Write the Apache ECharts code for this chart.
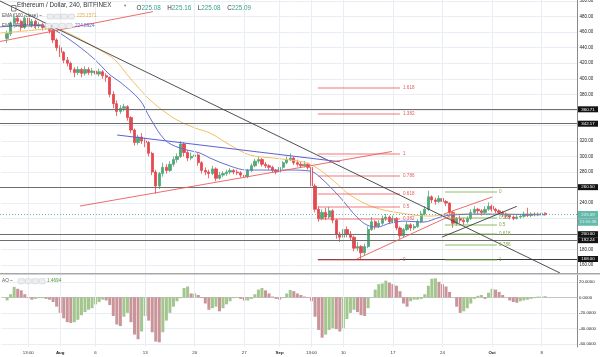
<!DOCTYPE html>
<html>
<head>
<meta charset="utf-8">
<script src="https://cdn.jsdelivr.net/npm/echarts@6.0.0/dist/echarts.min.js"></script>
<style>html,body{margin:0;padding:0;background:#fff;}#chart{width:600px;height:357px;}</style>
</head>
<body>
<div id="chart"></div>
<script>
// ================= DATA =================
// 12h candles, Jul 24 -> Oct 8
const opens = [452,458,472,478,474,466,478,470,474,468, 470,466,468,462,450,440,434,424,420,412,
 408,412,407,412,408,410,406,409,404,402, 380,368,358,362,364,350,334,318,325,320,
 318,304,280,262,278,286,282,290,296,300, 316,305,298,300,302,292,282,280,278,284,
 272,276,278,280,282,280,279,276,274,282, 288,294,296,290,288,286,282,280,286,292,
 296,298,292,290,288,290,286,262,232,220, 228,222,230,218,200,196,206,200,196,182,
 184,176,184,206,216,210,214,220,222,216, 220,208,198,206,212,208,210,216,226,232,
 248,244,242,246,242,240,228,214,220,218, 216,220,228,232,230,228,232,236,232,230,
 228,226,224,222,220,222,223,226,224,226, 225,226,227];
const closes = [458,472,478,474,466,478,470,474,468,470, 466,468,462,450,440,434,424,420,412,408,
 412,407,412,408,410,406,409,404,402,380, 368,358,362,364,350,334,318,325,320,318,
 304,280,262,278,286,282,290,296,300,316, 305,298,300,302,292,282,280,278,284,272,
 276,278,280,282,280,279,276,274,282,288, 294,296,290,288,286,282,280,286,292,296,
 298,292,290,288,290,286,262,232,220,228, 222,230,218,200,196,206,200,196,182,184,
 176,184,206,216,210,214,220,222,216,220, 208,198,206,212,208,210,216,226,232,248,
 244,242,246,242,240,228,214,220,218,216, 220,228,232,230,228,232,236,232,230,228,
 226,224,222,220,222,223,226,224,226,225, 226,227,225.09];
const highs = [462,474,484,482,476,482,480,477,476,473, 472,471,470,464,452,443,436,428,422,415,
 416,414,416,415,414,412,413,411,407,403, 384,372,366,368,366,352,336,328,330,324,
 320,306,283,280,292,290,294,300,304,320, 318,308,305,306,304,294,286,283,288,286,
 280,281,283,285,284,283,281,279,284,291, 297,300,298,293,290,288,284,288,294,300,
 304,300,296,293,294,292,287,265,236,232, 234,235,232,220,203,210,210,204,198,190,
 186,188,210,222,218,218,224,226,224,224, 222,210,208,216,214,213,219,230,236,256,
 250,247,250,248,244,241,230,222,224,221, 223,232,236,234,232,236,241,238,234,232,
 230,228,226,224,225,226,229,234,228,228, 228,229,228];
const lows = [446,455,468,470,462,464,466,466,464,465, 462,463,458,446,436,428,420,416,408,402,
 405,402,404,405,404,402,403,400,396,376, 362,352,355,358,346,330,314,315,316,312,
 300,276,252,258,274,278,280,287,292,298, 300,294,295,296,288,278,276,272,276,268,
 270,273,275,277,277,276,273,271,272,280, 286,291,287,285,283,279,277,278,284,290,
 294,289,287,285,286,283,258,228,216,218, 218,220,214,194,190,194,196,192,178,178,
 168,173,182,204,206,208,212,217,213,214, 205,194,196,204,204,205,208,214,224,230,
 240,238,240,238,236,224,208,211,214,212, 214,218,226,226,224,226,230,229,227,225,
 222,220,219,218,219,220,221,222,222,223, 223,224,224];
// Awesome Oscillator, one value per candle
const aoValues = [-4,4,13.5,11,9,4,-1,-3,-2,-1, -1,-2,-3,-6,-12,-20,-27,-32,-33,-32,
 -29,-23,-19,-16,-14,-9,-6,-3,-4,-10, -24,-35,-37,-25,-20,-32,-48,-54,-44,-24,
 -30,-45,-57,-58,-45,-30,-20,-12,-5,-1, 12,14,5,5,3,-1,-8,-16,-14,-12,
 -18,-14,-9,-5,-1,0.5,-2,-4,-4,-2, 4,10,12,9,5,1,-2,-3,-1,5,
 9.5,8,5,3,1,0.5,-5,-25,-42,-52, -48,-42,-40,-41,-44,-40,-28,-20,-16,-19,
 -23,-24,-14,0,10,17,18,21.5,19,17, 15,8,-8,-12,-5,-3,-3,-2,4,15,
 24,24.5,20,17,14,7,0,-12,-20,-18, -14,-8,-2,2,3,-2,6,11,10,7,
 3,0,-4,-6,-7,-5,-4,-3,-2,-1, 1,1,1.4694];
// moving averages: [time index, price]
const emaSlow = [[0,458.9],[7.1,461.5],[14.1,464.1],[17.0,462.8],[22.6,451.2],[28.2,437.1],[32.5,424.2],
 [36.7,401.0],[42.4,372.7],[46.6,357.2],[50.0,346.9],[55.1,336.6],[59.3,330.2],[65.0,314.7],[70.6,301.9],
 [77.1,298.0],[81.9,295.5],[86.7,291.6],[90.4,282.6],[94.6,267.2],[98.9,250.4],[105.4,235.0],[113.0,227.3],
 [121.5,223.2],[127.1,225.8],[135.6,225.8],[154,225.1571]];
const emaFast = [[0,466.7],[8.5,469.2],[14.1,465.4],[19.8,449.9],[26.3,426.8],[31.1,404.9],[33.9,395.9],
 [39.5,372.7],[42.4,349.5],[46.6,321.2],[50.8,310.9],[56.5,304.4],[59.3,298.0],[65.0,287.7],[69.8,282.5],
 [77.1,282.5],[81.9,282.5],[87.6,281.2],[90.4,273.4],[96.0,247.7],[100.8,222.0],[103.7,211.7],[106.5,209.1],
 [110.2,214.2],[114.4,216.8],[119.5,215.5],[124.3,221.9],[127.1,224.5],[135.6,225.8],[154,224.8924]];
// time axis ticks
const tickIndex = [8,17,27,41,55,69,79,88,97,111,125,139,153];
const tickText = ['13:00','Aug','6','13','20','27','Sep','13:00','10','17','24','Oct','8'];
const monthTicks = ['Aug','Sep','Oct'];
const hiddenPriceTicks = [360,340,260,220,200];
// drawings
const srLevels = [360.71, 342.17, 260.50, 200.00, 192.24];
const support168 = [[89.8,168],[163,168]];
const lastPrice = 225.09;
const countdown = '21:55:38';
const downTrendBlack = [[0,500.1],[158.2,150.0]];
const upLineRedTopLeft = [[0,448.0],[43.2,486.4]];
const resistanceBlue = [[33.1,327.6],[96.0,293.3]];
const wedgeRed = [[22.6,236.2],[110.7,306.4]];
const riseRedA = [[100.8,168.0],[127.1,223.3]];
const riseRedB = [[125.4,225.9],[139.0,247.8]];
const riseBlack = [[124.9,196.3],[146.0,235.8]];
const redFibSpan = [89.8,113.0];
const redFibLevels = [167.6,219.5,235.9,252.1,275.2,303.2,355.6,388.5];
const redFibNames = ['0','0.382','0.5','0.618','0.786','1','1.382','1.618'];
const greenFibSpan = [125.7,140.4];
const greenFibLevels = [254.6,221.2,211.8,201.1,186.0,167.6];
const greenFibNames = ['0','0.382','0.5','0.618','0.786','1'];

// ================= CHART =================
const FONT = 'Liberation Sans, Arial, sans-serif';
const GRID = '#e9eef4';
const UP = '#53a777', DN = '#e4494f';
const AO_UP = '#a3c68e', AO_DN = '#c9959a';
const N = 164, LEAD = 2;
const cats = [];
for (let i = 0; i < N; i++) cats.push(String(i));
const candleData = [], aoData = [];
for (let i = 0; i < N; i++) {
  const j = i - LEAD;
  if (j >= 0 && j < closes.length) {
    candleData.push([opens[j], closes[j], lows[j], highs[j]]);
    const up = j === 0 ? true : aoValues[j] >= aoValues[j - 1];
    aoData.push({ value: aoValues[j], itemStyle: { color: up ? AO_UP : AO_DN } });
  } else {
    candleData.push(['-', '-', '-', '-']);
    aoData.push('-');
  }
}
const isTick = (i) => tickIndex.indexOf(i) >= 0;

const ml = [];
function seg(pts, color, width, label) {
  ml.push([{ coord: pts[0], lineStyle: { color: color, width: width, type: 'solid', opacity: 1 },
             label: label || { show: false } }, { coord: pts[1] }]);
}
const boxLabel = (txt, bg) => ({ show: true, position: 'end', distance: 1, formatter: '{x|' + txt + '}',
  rich: { x: { backgroundColor: bg, color: '#fff', width: 20, height: 6, align: 'center', fontSize: 4.4, fontFamily: FONT } } });

// horizontal support / resistance
srLevels.forEach(v => seg([[0, v], [N - 1, v]], '#6e6e6e', 1.2, boxLabel(v.toFixed(2), '#131313')));
seg(support168, '#3a3a3a', 1.2, boxLabel('168.00', '#131313'));
// fib retracements
redFibLevels.forEach((v, k) => seg([[redFibSpan[0], v], [redFibSpan[1], v]], 'rgba(238,90,90,0.55)', 1.6,
  { show: true, position: 'end', distance: 3, formatter: redFibNames[k], color: '#e35d5d', fontSize: 4.6, fontFamily: FONT }));
greenFibLevels.forEach((v, k) => seg([[greenFibSpan[0], v], [greenFibSpan[1], v]], 'rgba(130,180,80,0.6)', 1.6,
  { show: true, position: 'end', distance: 2, formatter: greenFibNames[k], color: '#7aa84a', fontSize: 4.6, fontFamily: FONT }));
// trend lines
seg(downTrendBlack, '#3c3c3c', 0.9);
seg(upLineRedTopLeft, '#ec5b5b', 0.9);
seg(resistanceBlue, '#5b63d6', 1.1);
seg(wedgeRed, '#ec5b5b', 0.9);
seg(riseRedA, '#ec5b5b', 0.9);
seg(riseRedB, '#ec5b5b', 0.9);
seg(riseBlack, '#3c3c3c', 0.9);
// last price line + countdown
ml.push([{ coord: [0, lastPrice], lineStyle: { color: '#3fa796', width: 1, type: [1, 2], opacity: 0.8 },
  label: { show: true, position: 'end', distance: 1,
    formatter: '{e|}\n{a|' + lastPrice.toFixed(2) + '}\n{a|' + countdown + '}',
    rich: { e: { height: 7.4, width: 20 },
            a: { backgroundColor: '#3fa796', color: '#fff', width: 20, height: 7.4, align: 'center', fontSize: 4.4, fontFamily: FONT } } } },
  { coord: [N - 1, lastPrice] }]);

// vertical time grid lines (drawn under the marks)
const vGrid = tickIndex.map(i => ({ xAxis: i }));
const vGridLine = { silent: true, animation: false, symbol: ['none', 'none'], label: { show: false },
  lineStyle: { color: GRID, width: 1, type: 'solid' }, data: vGrid };

const option = {
  animation: false,
  backgroundColor: '#ffffff',
  textStyle: { fontFamily: FONT },
  grid: [
    { left: 0, right: 23, top: 0, height: 273, outerBoundsMode: 'none' },
    { left: 0, right: 23, top: 275, height: 72, outerBoundsMode: 'none' }
  ],
  xAxis: [
    { type: 'category', gridIndex: 0, data: cats, boundaryGap: false,
      axisLine: { show: false }, axisTick: { show: false }, axisLabel: { show: false }, splitLine: { show: false } },
    { type: 'value', gridIndex: 0, min: 0, max: N - 1, show: false, splitLine: { show: false } },
    { type: 'category', gridIndex: 1, data: cats, boundaryGap: false,
      axisLine: { show: true, lineStyle: { color: '#c4c4c4' } }, axisTick: { show: false },
      axisLabel: { interval: (i) => isTick(i), margin: 4, fontSize: 4.4, color: '#333', fontFamily: FONT,
        formatter: (v) => { const t = tickText[tickIndex.indexOf(Number(v))] || ''; return monthTicks.indexOf(t) >= 0 ? '{b|' + t + '}' : t; },
        rich: { b: { fontWeight: 'bold', fontSize: 4.4, color: '#222', fontFamily: FONT } } },
      splitLine: { show: false } },
    { type: 'value', gridIndex: 1, min: 0, max: N - 1, show: false, splitLine: { show: false } }
  ],
  yAxis: [
    { type: 'value', gridIndex: 0, position: 'right', min: 150, max: 501.4, interval: 10,
      axisLine: { show: true, onZero: false, lineStyle: { color: '#8a8a8a', width: 1 } }, axisTick: { show: false },
      axisLabel: { margin: 2.5, fontSize: 4.5, color: '#222', fontFamily: FONT,
        formatter: (v) => (Math.abs(v % 20) < 1e-6 && hiddenPriceTicks.indexOf(v) < 0) ? v.toFixed(2) : '' },
      splitLine: { show: true, lineStyle: { color: ['rgba(0,0,0,0)', GRID], width: 1 } } },
    { type: 'value', gridIndex: 1, position: 'right', min: -64, max: 28.8, interval: 4,
      axisLine: { show: true, onZero: false, lineStyle: { color: '#8a8a8a', width: 1 } }, axisTick: { show: false },
      axisLabel: { margin: 2, fontSize: 4.3, color: '#222', fontFamily: FONT,
        formatter: (v) => (Math.abs(v % 20) < 1e-6) ? (v === 0 ? 0 : v).toFixed(4) : '' },
      splitLine: { show: true, lineStyle: { color: ['rgba(0,0,0,0)', GRID, 'rgba(0,0,0,0)', 'rgba(0,0,0,0)', 'rgba(0,0,0,0)'], width: 1 } } }
  ],
  series: [
    { type: 'line', xAxisIndex: 1, yAxisIndex: 0, data: [[0, 160]], showSymbol: false, z: 1,
      lineStyle: { opacity: 0 }, markLine: vGridLine },
    { type: 'line', xAxisIndex: 3, yAxisIndex: 1, data: [[0, 0]], showSymbol: false, z: 1,
      lineStyle: { opacity: 0 }, markLine: vGridLine },
    { type: 'candlestick', xAxisIndex: 0, yAxisIndex: 0, data: candleData, barWidth: '78%', z: 2,
      itemStyle: { color: UP, color0: DN, borderColor: UP, borderColor0: DN, borderWidth: 0.8 } },
    { type: 'line', name: 'slow', xAxisIndex: 1, yAxisIndex: 0, data: emaSlow, showSymbol: false, smooth: 0.35,
      lineStyle: { color: '#f3bf62', width: 1 }, z: 3 },
    { type: 'line', name: 'fast', xAxisIndex: 1, yAxisIndex: 0, data: emaFast, showSymbol: false, smooth: 0.35,
      lineStyle: { color: '#6670c9', width: 1 }, z: 3,
      markLine: { silent: true, animation: false, symbol: ['none', 'none'], precision: 4, data: ml } },
    { type: 'bar', xAxisIndex: 2, yAxisIndex: 1, data: aoData, barCategoryGap: '15%', z: 2 }
  ],
  graphic: [
    { type: 'rect', left: 0, top: 0, shape: { width: 1.4, height: 350 }, style: { fill: '#ffffff' }, z: 1 },
    { type: 'rect', left: 0, top: 273, shape: { width: 600, height: 1.6 }, style: { fill: '#a8a8a8' }, z: 100 },
    { type: 'text', left: 17, top: 2.6, style: { text: 'Ethereum / Dollar, 240, BITFINEX', fontSize: 6.3, fontFamily: FONT, fill: '#333' }, z: 100 },
    { type: 'text', left: 124, top: 3.2, style: { text: '▾', fontSize: 4.5, fontFamily: 'DejaVu Sans', fill: '#777' }, z: 100 },
    { type: 'text', left: 136.5, top: 2.6, style: {
        text: '{k|O}{v|225.08}  {k|H}{v|225.16}  {k|L}{v|225.08}  {k|C}{v|225.09}',
        rich: { k: { fontSize: 6.3, fontFamily: FONT, fill: '#333' }, v: { fontSize: 6.3, fontFamily: FONT, fill: '#3aa18d' } } }, z: 100 },
    { type: 'rect', left: 9, top: 3, shape: { width: 4.5, height: 5.5 }, style: { fill: 'none', stroke: '#555', lineWidth: 0.7 }, z: 100 },
    // indicator legends
    { type: 'text', left: 2, top: 13.6, style: { text: 'EMA (100, close) ~', fontSize: 4.7, fontFamily: FONT, fill: '#555' }, z: 100 },
    { type: 'text', left: 2, top: 22.9, style: { text: 'EMA (50, close) ~', fontSize: 4.7, fontFamily: FONT, fill: '#555' }, z: 100 },
    { type: 'text', left: 77, top: 13.6, style: { text: '225.1571', fontSize: 4.7, fontFamily: FONT, fill: '#e9ac3f' }, z: 100 },
    { type: 'text', left: 75, top: 22.9, style: { text: '224.8924', fontSize: 4.7, fontFamily: FONT, fill: '#5a62c4' }, z: 100 },
    { type: 'text', left: 2, top: 278.2, style: { text: 'AO ~', fontSize: 4.7, fontFamily: FONT, fill: '#555' }, z: 100 },
    { type: 'text', left: 47, top: 278.2, style: { text: '1.4694', fontSize: 4.7, fontFamily: FONT, fill: '#4c9b3c' }, z: 100 }
  ]
};
// small legend buttons
[[47, 13.6], [45, 22.9], [18, 278.2]].forEach(p => {
  for (let k = 0; k < 4; k++) {
    option.graphic.push({ type: 'rect', left: p[0] + k * 7, top: p[1] + 0.2, shape: { width: 6, height: 5, r: 0.8 },
      style: { fill: '#eceef1', stroke: '#c5c8cc', lineWidth: 0.5 }, z: 100 });
  }
});
const chart = echarts.init(document.getElementById('chart'), null, { renderer: 'canvas', width: 600, height: 357 });
chart.setOption(option);
</script>
</body>
</html>
